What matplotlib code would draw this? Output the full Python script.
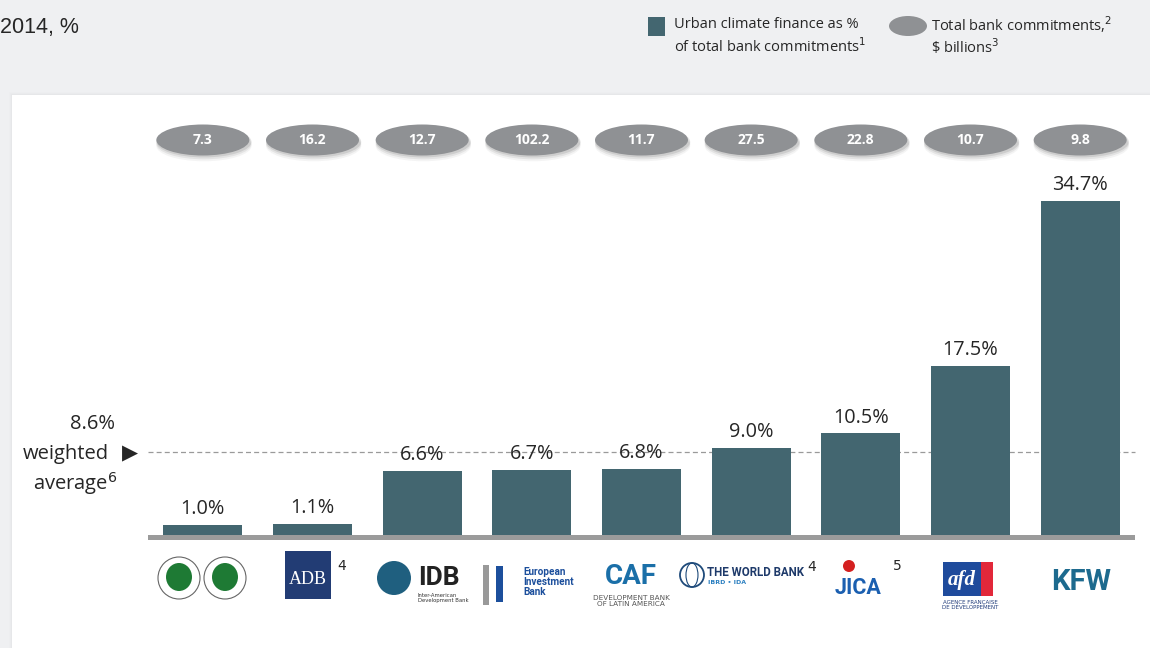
import matplotlib
matplotlib.use("Agg")
import matplotlib.pyplot as plt
from matplotlib.patches import Rectangle, Ellipse

# ---------------- data ----------------
banks = ["AfDB", "ADB", "IDB", "EIB", "CAF", "World Bank", "JICA", "AFD", "KfW"]
urban_share = [1.0, 1.1, 6.6, 6.7, 6.8, 9.0, 10.5, 17.5, 34.7]
total_commit = [7.3, 16.2, 12.7, 102.2, 11.7, 27.5, 22.8, 10.7, 9.8]
weighted_avg = 8.6

BAR = "#436670"
GRAY = "#8f9194"
TXT = "#262626"

W, H = 1150, 648
fig = plt.figure(figsize=(W / 100, H / 100), dpi=100)
fig.patch.set_facecolor("#eff0f2")

def px(x, y):
    return x / W, 1 - y / H

# white panel with soft shadow
for i, a in enumerate([0.05, 0.07, 0.10]):
    off = 3 - i
    fig.patches.append(Rectangle(px(12 - off, 648), 1.2, (648 - 95 + off) / H,
                                 transform=fig.transFigure, facecolor="#c8c9cc",
                                 edgecolor="none", alpha=a, zorder=-3))
fig.patches.append(Rectangle(px(12, 648), 1.1, (648 - 95) / H, transform=fig.transFigure,
                             facecolor="white", edgecolor="none", zorder=-2))

# axes: baseline (0) at y=534.5px, 9.62 px per %
y0 = 534.5
ppu = 9.62
ytop = 95
ax = fig.add_axes([148 / W, (H - y0) / H, (1135 - 148) / W, (y0 - ytop) / H])
ax.set_zorder(1)
ax.set_facecolor("none")
ax.set_xlim(-0.5, 8.5)
ax.set_ylim(0, (y0 - ytop) / ppu)
ax.axis("off")

def xd(xpx):
    return (xpx - 148) / 109.67 - 0.5

def d(ypx):
    return (y0 - ypx) / ppu

x = list(range(len(banks)))
ax.bar(x, urban_share, width=0.72, color=BAR, zorder=3)
for xi, v in zip(x, urban_share):
    ax.text(xi, v + 0.6, f"{v:.1f}%", ha="center", va="bottom", fontsize=14.3,
            color=TXT, family="Open Sans", zorder=4)

# baseline
ax.add_patch(Rectangle((-0.5, -0.52), 9.0, 0.52, facecolor="#9b9b9b", edgecolor="none",
                       clip_on=False, zorder=4))

# weighted average dashed line
ax.plot([-0.5, 8.5], [weighted_avg, weighted_avg], color="#9a9a9a", lw=0.9,
        ls=(0, (4, 2.5)), zorder=2, clip_on=False)
fig.text(*px(130, 453), "\u25B6", fontsize=15, ha="center", va="center", color=TXT)
fig.text(*px(115, 424), f"{weighted_avg}%", fontsize=14.5, ha="right", va="center",
         color=TXT, family="Open Sans")
fig.text(*px(109, 454), "weighted", fontsize=14.5, ha="right", va="center",
         color=TXT, family="Open Sans")
fig.text(*px(117, 484), "average$^{6}$", fontsize=14.5, ha="right", va="center",
         color=TXT, family="Open Sans")

# commitment ellipses
ey = (y0 - 140) / ppu
ew = 93 / 109.67
eh = 31 / ppu
for xi, c in zip(x, total_commit):
    for k, (dy, al) in enumerate([(0.6, 0.08), (0.4, 0.13), (0.2, 0.2)]):
        ax.add_patch(Ellipse((xi + 0.01, ey - dy), ew + 0.02, eh, facecolor="#777777",
                             edgecolor="none", alpha=al, zorder=2, clip_on=False))
    ax.add_patch(Ellipse((xi, ey), ew, eh, facecolor=GRAY, edgecolor="none",
                         zorder=3, clip_on=False))
    ax.text(xi, ey, f"{c}", ha="center", va="center", fontsize=10, fontweight="bold",
            color="white", family="Open Sans", zorder=4)

# ---- "logos" drawn with simple shapes and text below the axis ----
# AfDB / AfDF: two seals
for cx in (179, 225):
    ax.add_patch(Ellipse((xd(cx), d(578)), 42 / 109.67, 42 / ppu, facecolor="white",
                         edgecolor="#666666", lw=0.8, clip_on=False))
    ax.add_patch(Ellipse((xd(cx), d(577)), 26 / 109.67, 28 / ppu, facecolor="#1e7a34",
                         edgecolor="none", clip_on=False))
# ADB
ax.add_patch(Rectangle((xd(285), d(599)), 46 / 109.67, 48 / ppu, facecolor="#223c74",
                       edgecolor="none", clip_on=False))
ax.text(xd(308), d(580), "ADB", ha="center", va="center", fontsize=13, color="white",
        family="Liberation Serif", clip_on=False)
ax.text(xd(342), d(566), "4", ha="center", va="center", fontsize=10, color=TXT,
        clip_on=False)
# IDB
ax.add_patch(Ellipse((xd(394), d(578)), 34 / 109.67, 34 / ppu, facecolor="#1f5f7f",
                     edgecolor="none", clip_on=False))
ax.text(xd(439), d(578), "IDB", ha="center", va="center", fontsize=19, fontweight="bold",
        color="#222222", family="Roboto", clip_on=False)
ax.text(xd(418), d(598), "Inter-American\nDevelopment Bank", ha="left", va="center",
        fontsize=3.8, color="#333333", linespacing=1.0, clip_on=False)
# EIB
ax.add_patch(Rectangle((xd(483), d(605)), 6 / 109.67, 40 / ppu, facecolor="#999999",
                       clip_on=False))
ax.add_patch(Rectangle((xd(496), d(602)), 7 / 109.67, 36 / ppu, facecolor="#1c4f9c",
                       clip_on=False))
ax.text(xd(523), d(582), "European\nInvestment\nBank", ha="left", va="center",
        fontsize=7.2, fontweight="bold", color="#1c4f9c", linespacing=1.0,
        family="Roboto", clip_on=False)
# CAF
ax.text(xd(631), d(577), "CAF", ha="center", va="center", fontsize=20, fontweight="bold",
        color="#1a6fa8", family="Roboto", clip_on=False)
ax.text(xd(631), d(601), "DEVELOPMENT BANK\nOF LATIN AMERICA", ha="center", va="center",
        fontsize=5.2, color="#555555", linespacing=1.1, clip_on=False)
# World Bank
ax.add_patch(Ellipse((xd(692), d(575)), 24 / 109.67, 24 / ppu, facecolor="white",
                     edgecolor="#1e4a7a", lw=1.3, clip_on=False))
ax.add_patch(Ellipse((xd(692), d(575)), 12 / 109.67, 24 / ppu, facecolor="none",
                     edgecolor="#1e4a7a", lw=0.8, clip_on=False))
ax.text(xd(707), d(573), "THE WORLD BANK", ha="left", va="center", fontsize=8.3,
        fontweight="bold", color="#1e3a6a", family="Roboto", clip_on=False)
ax.text(xd(812), d(567), "4", ha="center", va="center", fontsize=10, color=TXT,
        clip_on=False)
ax.text(xd(708), d(583), "IBRD \u2022 IDA", ha="left", va="center", fontsize=4.5,
        fontweight="bold", color="#2a7fc0", clip_on=False)
# JICA
ax.text(xd(858), d(588), "JICA", ha="center", va="center", fontsize=15.5, fontweight="bold",
        color="#1b5fb0", family="Roboto", clip_on=False)
ax.add_patch(Ellipse((xd(849), d(566)), 12 / 109.67, 12 / ppu, facecolor="#d42020",
                     edgecolor="none", clip_on=False))
ax.text(xd(897), d(566), "5", ha="center", va="center", fontsize=10, color=TXT,
        clip_on=False)
# AFD
ax.add_patch(Rectangle((xd(943), d(596)), 50 / 109.67, 34 / ppu, facecolor="#1f4b9c",
                       edgecolor="none", clip_on=False))
ax.add_patch(Rectangle((xd(981), d(596)), 12 / 109.67, 34 / ppu, facecolor="#e2283a",
                       edgecolor="none", clip_on=False))
ax.text(xd(962), d(580), "afd", ha="center", va="center", fontsize=15, fontstyle="italic",
        fontweight="bold", color="white", family="Liberation Serif", clip_on=False)
ax.text(xd(970), d(605), "AGENCE FRAN\u00C7AISE\nDE D\u00C9VELOPPEMENT", ha="center",
        va="center", fontsize=4.0, color="#1f3b7a", linespacing=1.0, clip_on=False)
# KfW
ax.text(xd(1081), d(582), "KFW", ha="center", va="center", fontsize=21, fontweight="bold",
        color="#1d6a8e", family="Roboto", clip_on=False)

# top-left subtitle
fig.text(*px(0, 28), "2014, %", fontsize=15.5, ha="left", va="center", color=TXT,
         family="Liberation Sans")

# legend
fig.patches.append(Rectangle(px(648, 36), 17 / W, 19 / H, transform=fig.transFigure,
                             facecolor=BAR, edgecolor="none"))
fig.text(*px(674, 25), "Urban climate finance as %", fontsize=10.5, ha="left", va="center",
         color=TXT, family="Open Sans")
fig.text(*px(674, 47), "of total bank commitments$^{1}$", fontsize=10.5, ha="left",
         va="center", color=TXT, family="Open Sans")
fig.patches.append(Ellipse(px(908, 26), 38 / W, 20 / H, transform=fig.transFigure,
                           facecolor=GRAY, edgecolor="none"))
fig.text(*px(931, 25), "Total bank commitments,$^{2}$", fontsize=10.5, ha="left",
         va="center", color=TXT, family="Open Sans")
fig.text(*px(931, 47), "\\$ billions$^{3}$", fontsize=10.5, ha="left", va="center",
         color=TXT, family="Open Sans")

fig.savefig("out.png", dpi=100, facecolor=fig.get_facecolor())
